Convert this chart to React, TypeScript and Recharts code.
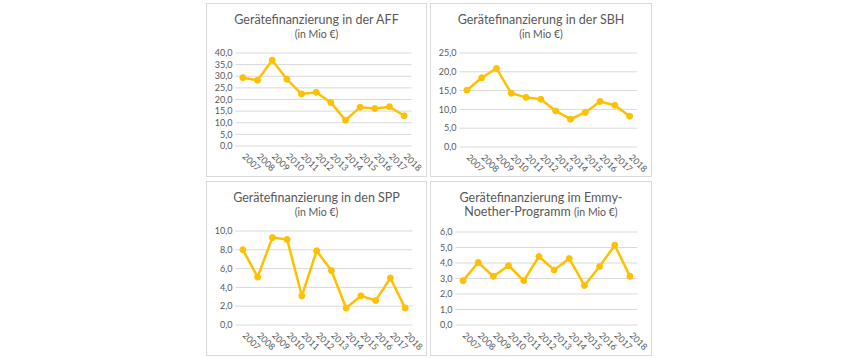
import React from 'react'
import { LineChart, Line, XAxis, YAxis, CartesianGrid } from 'recharts'

const years = ['2007', '2008', '2009', '2010', '2011', '2012', '2013', '2014', '2015', '2016', '2017', '2018']

const affValues = [29.4, 28.3, 36.9, 28.7, 22.4, 23.1, 18.7, 11.1, 16.7, 16.1, 16.9, 13.0]
const sbhValues = [15.1, 18.4, 20.9, 14.3, 13.2, 12.7, 9.6, 7.4, 9.2, 12.1, 11.1, 8.2]
const sppValues = [8.0, 5.1, 9.3, 9.1, 3.1, 7.9, 5.8, 1.8, 3.1, 2.6, 5.0, 1.8]
const emmyValues = [2.86, 4.03, 3.14, 3.83, 2.86, 4.42, 3.55, 4.29, 2.55, 3.77, 5.15, 3.14]

const affTicks = [0, 5, 10, 15, 20, 25, 30, 35, 40]
const sbhTicks = [0, 5, 10, 15, 20, 25]
const sppTicks = [0, 2, 4, 6, 8, 10]
const emmyTicks = [0, 1, 2, 3, 4, 5, 6]

const FONT = 'Lato, "Open Sans", sans-serif'
const GREY = '#595959'
const GOLD = '#FFC000'

type Box = { x: number; y: number; w: number; h: number }
type Plot = { x1: number; x2: number; y1: number; y2: number }

const fmt = (v: number) => v.toFixed(1).replace('.', ',')

function YearTick(props: any) {
  const { x, y, payload } = props
  const tx = x - 1
  const ty = y + 11
  return (
    <text
      x={tx}
      y={ty}
      transform={`rotate(45, ${tx}, ${ty})`}
      textAnchor="start"
      fill={GREY}
      fontSize={9}
      fontFamily={FONT}
    >
      {payload.value}
    </text>
  )
}

function Panel({
  box,
  plot,
  values,
  ticks,
  title,
}: {
  box: Box
  plot: Plot
  values: number[]
  ticks: number[]
  title: React.ReactNode
}) {
  const data = years.map((year, i) => ({ year, value: values[i] }))
  const band = (plot.x2 - plot.x1) / years.length
  return (
    <>
      <div
        style={{
          position: 'absolute',
          left: box.x,
          top: box.y,
          width: box.w,
          height: box.h,
          boxSizing: 'border-box',
          border: '1px solid #d9d9d9',
          background: '#fff',
        }}
      />
      <div
        style={{
          position: 'absolute',
          left: box.x,
          top: box.y + 10,
          width: box.w,
          textAlign: 'center',
          color: GREY,
          fontFamily: FONT,
          lineHeight: '14px',
        }}
      >
        {title}
      </div>
      <div style={{ position: 'absolute', left: box.x, top: box.y }}>
        <LineChart
          width={box.w}
          height={box.h}
          data={data}
          margin={{ top: plot.y1 - box.y, right: box.x + box.w - plot.x2, bottom: 0, left: 0 }}
        >
          <CartesianGrid vertical={false} stroke="#d9d9d9" />
          <XAxis
            dataKey="year"
            interval={0}
            padding={{ left: band / 2, right: band / 2 }}
            axisLine={false}
            tickLine={false}
            tickSize={0}
            tickMargin={0}
            height={box.y + box.h - plot.y2}
            tick={<YearTick />}
          />
          <YAxis
            domain={[0, ticks[ticks.length - 1]]}
            ticks={ticks}
            interval={0}
            tickFormatter={fmt}
            width={plot.x1 - box.x}
            axisLine={false}
            tickLine={false}
            tickSize={2}
            tickMargin={1}
            tick={{ fill: GREY, fontSize: 9, fontFamily: FONT }}
          />
          <Line
            type="linear"
            dataKey="value"
            stroke={GOLD}
            strokeWidth={2.5}
            dot={{ r: 3, fill: GOLD, stroke: GOLD, strokeWidth: 1 }}
            isAnimationActive={false}
          />
        </LineChart>
      </div>
    </>
  )
}

const big = { fontSize: 12.5 }
const small = { fontSize: 10.5 }

export default function App() {
  return (
    <div style={{ position: 'absolute', left: 0, top: 0, width: 858, height: 358, background: '#fff' }}>
      <Panel
        box={{ x: 206, y: 3, w: 221, h: 174 }}
        plot={{ x1: 235.5, x2: 411.5, y1: 53, y2: 146 }}
        values={affValues}
        ticks={affTicks}
        title={
          <>
            <div style={big}>Gerätefinanzierung in der AFF</div>
            <div style={small}>(in Mio €)</div>
          </>
        }
      />
      <Panel
        box={{ x: 430, y: 3, w: 222, h: 174 }}
        plot={{ x1: 459.5, x2: 637, y1: 53, y2: 147 }}
        values={sbhValues}
        ticks={sbhTicks}
        title={
          <>
            <div style={big}>Gerätefinanzierung in der SBH</div>
            <div style={small}>(in Mio €)</div>
          </>
        }
      />
      <Panel
        box={{ x: 206, y: 181, w: 221, h: 175 }}
        plot={{ x1: 235.5, x2: 412.5, y1: 231, y2: 325 }}
        values={sppValues}
        ticks={sppTicks}
        title={
          <>
            <div style={big}>Gerätefinanzierung in den SPP</div>
            <div style={small}>(in Mio €)</div>
          </>
        }
      />
      <Panel
        box={{ x: 430, y: 181, w: 222, h: 175 }}
        plot={{ x1: 455.5, x2: 637.5, y1: 232, y2: 325 }}
        values={emmyValues}
        ticks={emmyTicks}
        title={
          <>
            <div style={big}>Gerätefinanzierung im Emmy-</div>
            <div style={big}>
              Noether-Programm <span style={small}>(in Mio €)</span>
            </div>
          </>
        }
      />
    </div>
  )
}
